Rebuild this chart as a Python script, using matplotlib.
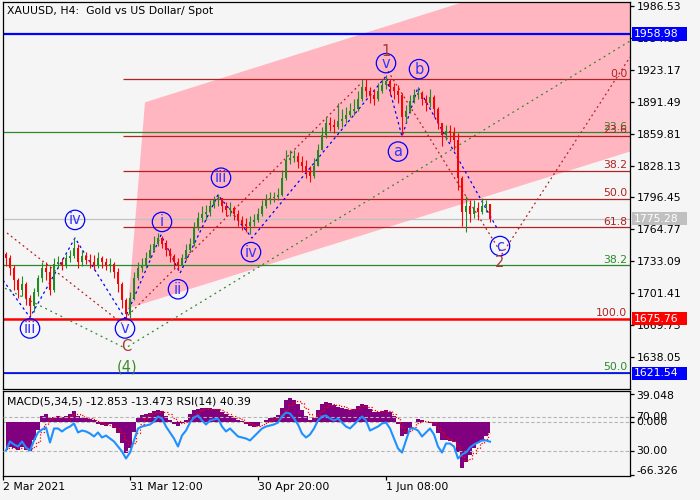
import numpy as np
import matplotlib
matplotlib.use("Agg")
import matplotlib.pyplot as plt
from matplotlib.patches import Polygon, Rectangle
from matplotlib.transforms import blended_transform_factory as blend

# ---------------- data ----------------
title = "XAUUSD, H4:  Gold vs US Dollar/ Spot"
indicator_label = "MACD(5,34,5) -12.853 -13.473 RSI(14) 40.39"
time_labels = ["2 Mar 2021", "31 Mar 12:00", "30 Apr 20:00", "1 Jun 08:00"]
time_label_bars = [0, 127, 255, 383]

first_open = 1740.0
closes = [1736, 1726, 1714, 1704, 1710, 1696, 1688, 1702, 1716, 1726,
          1722, 1704, 1730, 1732, 1728, 1736, 1738, 1746, 1732, 1738,
          1734, 1732, 1728, 1736, 1732, 1728, 1730, 1722, 1710, 1694,
          1680, 1696, 1716, 1726, 1729, 1736, 1744, 1750, 1756, 1750,
          1744, 1738, 1732, 1728, 1736, 1744, 1750, 1766, 1776, 1780,
          1782, 1788, 1794, 1796, 1788, 1784, 1786, 1780, 1774, 1770,
          1768, 1772, 1774, 1780, 1788, 1794, 1796, 1797, 1799, 1816,
          1834, 1836, 1838, 1832, 1828, 1822, 1818, 1828, 1844, 1858,
          1870, 1868, 1866, 1872, 1874, 1878, 1882, 1884, 1894, 1906,
          1902, 1898, 1894, 1902, 1908, 1912, 1906, 1902, 1898, 1876,
          1882, 1892, 1898, 1900, 1894, 1890, 1896, 1884, 1870, 1858,
          1862, 1860, 1854, 1816, 1782, 1788, 1780, 1786, 1782, 1788,
          1790, 1775.28]
highs = [1742, 1739, 1729, 1716, 1718, 1712, 1699, 1706, 1719, 1732,
         1732, 1728, 1736, 1738, 1736, 1740, 1744, 1756, 1750, 1744,
         1742, 1740, 1739, 1742, 1738, 1736, 1736, 1732, 1726, 1712,
         1696, 1702, 1722, 1732, 1736, 1742, 1750, 1758, 1761, 1758,
         1754, 1746, 1740, 1736, 1740, 1750, 1756, 1772, 1782, 1788,
         1789, 1794, 1798, 1800, 1796, 1792, 1792, 1788, 1784, 1778,
         1776, 1778, 1780, 1786, 1794, 1800, 1802, 1802, 1806, 1824,
         1844, 1844, 1844, 1842, 1838, 1834, 1828, 1836, 1850, 1866,
         1876, 1876, 1874, 1890, 1884, 1886, 1890, 1894, 1902, 1914,
         1914, 1906, 1904, 1910, 1914, 1918, 1914, 1910, 1908, 1900,
         1888, 1898, 1904, 1906, 1902, 1898, 1904, 1898, 1886, 1870,
         1868, 1868, 1866, 1860, 1818, 1798, 1794, 1794, 1792, 1796,
         1794, 1790]
lows = [1728, 1719, 1704, 1696, 1698, 1689, 1678, 1682, 1698, 1712,
        1714, 1699, 1702, 1726, 1724, 1726, 1732, 1736, 1726, 1728,
        1730, 1726, 1724, 1726, 1726, 1724, 1722, 1716, 1702, 1686,
        1675, 1676, 1694, 1714, 1722, 1726, 1736, 1742, 1748, 1746,
        1738, 1732, 1726, 1724, 1728, 1734, 1742, 1748, 1764, 1772,
        1774, 1778, 1786, 1788, 1782, 1778, 1778, 1774, 1768, 1764,
        1762, 1760, 1768, 1772, 1778, 1786, 1790, 1792, 1794, 1798,
        1814, 1830, 1832, 1826, 1822, 1816, 1812, 1816, 1828, 1844,
        1856, 1862, 1860, 1864, 1866, 1870, 1876, 1878, 1882, 1892,
        1896, 1890, 1888, 1892, 1900, 1904, 1898, 1894, 1890, 1858,
        1870, 1880, 1890, 1894, 1888, 1882, 1886, 1876, 1864, 1848,
        1854, 1852, 1844, 1804, 1768, 1762, 1772, 1776, 1774, 1780,
        1782, 1772]

macd = [-34.1, -30.4, -31.6, -34.1, -30.4, -34.1, -35.3, -21.7, -9.3, 8.0,
        10.5, 5.6, 6.8, 8.0, 6.8, 8.0, 10.5, 14.3, 8.0, 5.6,
        5.6, 4.3, 3.1, -1.8, -3.1, -4.3, -1.8, -6.8, -13.0, -25.4,
        -37.8, -31.6, -11.8, 5.6, 9.3, 10.5, 11.8, 14.3, 15.5, 14.3,
        8.0, 3.1, -1.8, -4.3, -0.6, 3.1, 10.5, 15.5, 16.7, 18.0,
        18.0, 18.0, 16.7, 16.7, 13.0, 10.5, 8.0, 5.6, 3.1, 1.9,
        -1.8, -4.3, -5.6, -4.3, 0.6, 3.1, 5.6, 6.8, 9.3, 18.0,
        27.9, 30.4, 27.9, 22.9, 15.5, 8.0, 3.1, 5.6, 15.5, 22.9,
        25.4, 24.2, 21.7, 19.2, 18.0, 16.7, 15.5, 16.7, 20.5, 22.9,
        21.7, 16.7, 13.0, 13.0, 14.3, 15.5, 13.0, 8.0, -1.8, -16.7,
        -14.3, -6.8, 0.6, 4.3, 3.1, 0.6, -0.6, -4.3, -13.0, -21.7,
        -21.7, -22.9, -24.2, -36.6, -56.4, -49.0, -40.3, -31.6, -25.4, -21.7,
        -16.7, -12.853]
signal = [-30, -31, -31, -32, -32, -32, -33, -30, -24, -12,
          -2, 4, 7, 8, 7, 7, 8, 10, 10, 9,
          7, 6, 4, 2, 0, -2, -3, -4, -7, -13,
          -22, -28, -25, -13, -2, 6, 10, 12, 13, 14,
          13, 10, 6, 2, -1, 0, 3, 8, 12, 15,
          17, 17, 17, 17, 15, 13, 11, 8, 6, 4,
          1, -1, -3, -4, -3, -1, 2, 4, 6, 10,
          16, 22, 26, 27, 24, 18, 11, 7, 9, 14,
          19, 22, 23, 22, 20, 19, 17, 17, 18, 20,
          21, 19, 16, 14, 14, 14, 14, 11, 5, -5,
          -11, -11, -6, -1, 2, 2, 1, -1, -5, -12,
          -18, -21, -23, -29, -41, -47, -45, -38, -31, -25,
          -20, -13.473]
rsi = [30.0, 40.6, 37.1, 34.7, 40.6, 33.5, 30.0, 41.8, 51.2, 54.7,
       57.1, 39.4, 55.9, 55.9, 52.4, 55.9, 58.2, 61.8, 51.2, 53.5,
       52.4, 50.0, 46.5, 51.2, 45.3, 47.6, 44.1, 40.6, 34.7, 28.8,
       20.6, 27.6, 41.8, 55.9, 58.2, 59.4, 60.6, 64.1, 70.0, 67.6,
       58.2, 51.2, 44.1, 34.7, 47.6, 53.5, 62.9, 68.8, 71.2, 65.3,
       60.6, 65.3, 66.5, 67.6, 58.2, 52.4, 55.9, 51.2, 46.5, 45.3,
       44.1, 41.8, 46.5, 51.2, 55.9, 58.2, 59.4, 60.6, 62.9, 70.0,
       74.7, 73.5, 67.6, 60.6, 50.0, 45.3, 48.8, 55.9, 65.3, 70.0,
       71.2, 67.6, 65.3, 67.6, 62.9, 58.2, 55.9, 60.6, 65.3, 70.0,
       65.3, 53.5, 55.9, 58.2, 61.8, 62.9, 55.9, 44.1, 32.4, 27.6,
       41.8, 55.9, 55.9, 53.5, 46.5, 51.2, 55.9, 48.8, 34.7, 27.6,
       38.2, 38.2, 34.7, 20.6, 25.3, 27.6, 33.5, 37.1, 39.4, 41.8,
       41.8, 40.39]

price_ticks = [1986.53, 1954.85, 1923.17, 1891.49, 1859.81, 1828.13,
               1796.45, 1764.77, 1733.09, 1701.41, 1669.73, 1638.05]
macd_max, macd_min = 39.048, -66.326
rsi_levels = [70, 30]

level_blue_top = 1958.98
level_red = 1675.76
level_blue_bottom = 1621.54
last_price = 1775.28

fib_red_high, fib_red_low = 1913.8, 1675.76
fib_red_levels = [0.0, 23.6, 38.2, 50.0, 61.8, 100.0]
fib_red_start_bar = 120
fib_green_high, fib_green_low = 2074.6, 1169.6
fib_green_levels = [23.6, 38.2, 50.0]

wave_path_bars = [0, 27, 72, 122, 158, 177, 215, 249, 383, 399, 415, 495]
wave_path_prices = [1714, 1677, 1756, 1676, 1759, 1721, 1799, 1756, 1917, 1857, 1906, 1764]

brown_lines = [([4, 119], [1761, 1671]),
               ([125, 357], [1679, 1909]),
               ([385, 499, 627], [1922, 1740, 1936])]
green_lines = [([2, 121], [1706, 1647]),
               ([125, 627], [1648, 1952])]
channel_bars = [125, 142, 627, 627]
channel_prices = [1686, 1891, 2043, 1842]

circled_text = ["iii", "iv", "i", "iii", "ii", "v", "iv", "v", "b", "a", "c"]
circled_bars = [218, 72, 159, 27, 175, 122, 248, 383, 416, 395, 497]
circled_prices = [1816, 1774, 1772, 1666, 1705, 1666, 1742, 1930, 1924, 1842, 1748]

brown_marks = ["1", "C", "2"]
brown_mark_bars = [383, 123, 497]
brown_mark_prices = [1942, 1648, 1732]
green_mark = "(4)"
green_mark_bar, green_mark_price = 124, 1628

# ---------------- styling ----------------
BG = '#f5f5f5'
GREEN = '#1e8c1e'
RED = '#ff0000'
BROWN = '#b22222'
FIBGREEN = '#2a8a2a'
BLUE = '#0000ff'
FS = 7.8
plt.rcParams['font.family'] = ['DejaVu Sans']

fig = plt.figure(figsize=(7, 5), dpi=100)
fig.patch.set_facecolor(BG)


def rect(x0, y0, x1, y1):
    return [x0 / 700, 1 - y1 / 500, (x1 - x0) / 700, (y1 - y0) / 500]


ax = fig.add_axes(rect(3, 2, 630, 389))
ax2 = fig.add_axes(rect(3, 391, 630, 476))
ax3 = ax2.twinx()

for a in (ax, ax2):
    a.set_facecolor(BG)
    for s in a.spines.values():
        s.set_color('black')
        s.set_linewidth(0.9)
for s in ax3.spines.values():
    s.set_visible(False)

XMAX = 627
ax.set_xlim(0, XMAX)
ax.set_ylim(1605.76, 1990.83)
ax2.set_xlim(0, XMAX)
ax2.set_ylim(macd_min, macd_max)
ax3.set_ylim(0, 100)

# ---- main chart ----
chan = Polygon(list(zip(channel_bars, channel_prices)), closed=True,
               facecolor='#ffb6c1', edgecolor='none', zorder=0.5)
ax.add_patch(chan)

ax.axhline(last_price, color='#c0c0c0', lw=0.9, zorder=1)
for lv in fib_green_levels:
    p = fib_green_high - (fib_green_high - fib_green_low) * lv / 100
    ax.axhline(p, color=FIBGREEN, lw=0.9, zorder=1.2)
    ax.annotate(f"{lv:.1f}", xy=(1.0, p), xycoords=blend(ax.transAxes, ax.transData),
                xytext=(-2, 0.5), textcoords='offset points', ha='right', va='bottom',
                fontsize=FS, color=FIBGREEN, zorder=5)
for lv in fib_red_levels:
    p = fib_red_high - (fib_red_high - fib_red_low) * lv / 100
    if lv != 100.0:
        ax.hlines(p, fib_red_start_bar, XMAX, color=BROWN, lw=0.9, zorder=1.3)
    ax.annotate(f"{lv:.1f}", xy=(1.0, p), xycoords=blend(ax.transAxes, ax.transData),
                xytext=(-2, 0.5), textcoords='offset points', ha='right', va='bottom',
                fontsize=FS, color=BROWN, zorder=5)

ax.axhline(level_blue_top, color=BLUE, lw=1.6, zorder=1.5)
ax.axhline(level_red, color=RED, lw=1.8, zorder=1.5)
ax.axhline(level_blue_bottom, color=BLUE, lw=1.2, zorder=1.4)

ax.plot(wave_path_bars, wave_path_prices, color=BLUE, lw=0.9, ls=(0, (2, 2.5)), zorder=2)
for bx, py in brown_lines:
    ax.plot(bx, py, color=BROWN, lw=0.9, ls=(0, (1.5, 2.5)), zorder=2)
for bx, py in green_lines:
    ax.plot(bx, py, color='#2a8a2a', lw=0.9, ls=(0, (1.5, 3)), zorder=2)

# candles
c = np.asarray(closes, float)
h = np.asarray(highs, float)
l = np.asarray(lows, float)
o = np.r_[first_open, c[:-1]]
n = len(c)
xs = 3 + 4 * np.arange(n)
cols = np.where(c >= o, GREEN, RED)
ax.vlines(xs, l, h, colors=cols, lw=0.8, zorder=3)
ax.bar(xs, np.maximum(np.abs(c - o), 0.8), bottom=np.minimum(o, c), width=2.4,
       color=cols, lw=0, zorder=3)

# wave labels
ax.scatter(circled_bars, circled_prices, s=195, facecolors='none', edgecolors=BLUE,
           linewidths=0.9, zorder=6)
for t, bx, py in zip(circled_text, circled_bars, circled_prices):
    ax.text(bx, py, t, ha='center', va='center', fontsize=10.5, color='#3535ff', zorder=7)
for t, bx, py in zip(brown_marks, brown_mark_bars, brown_mark_prices):
    ax.text(bx, py, t, ha='center', va='center', fontsize=10.5, color='#a83a32', zorder=7)
ax.text(green_mark_bar, green_mark_price, green_mark, ha='center', va='center',
        fontsize=10.5, color='#3c8c28', zorder=7)

# price axis
ax.set_xticks([])
ax.yaxis.tick_right()
ax.set_yticks(price_ticks)
ax.set_yticklabels([f"{v:.2f}" for v in price_ticks], fontsize=FS)
ax.tick_params(axis='y', direction='out', length=3, width=0.9, pad=2, colors='black')

bt = blend(ax.transAxes, ax.transData)
for val, fc in [(level_blue_top, BLUE), (last_price, '#c0c0c0'),
                (level_red, RED), (level_blue_bottom, BLUE)]:
    ax.add_patch(Rectangle((1.0032, val - 6.6), 0.0877, 13.2, transform=bt,
                           facecolor=fc, edgecolor='none', clip_on=False, zorder=10))
    ax.text(1.0064, val, f"{val:.2f}", transform=bt, ha='left', va='center',
            fontsize=FS, color='white', zorder=11, clip_on=False)

ax.text(4 / 627, 1 - 9 / 387, title, transform=ax.transAxes, ha='left', va='center',
        fontsize=FS, color='black', zorder=12)

# ---- indicator panel ----
ax2.fill_between(xs, 0, macd, step='mid', color='#800080', lw=0, zorder=1)
ax2.plot(xs, signal, color='red', lw=0.9, ls=(0, (1, 1.5)), drawstyle='steps-mid', zorder=2)
ax2.axhline(0, color='#b4b4b4', lw=0.8, ls=(0, (3, 2)), zorder=0.5)
for lv in rsi_levels:
    ax3.axhline(lv, color='#b4b4b4', lw=0.8, ls=(0, (3, 2)), zorder=0.5)
ax3.plot(xs, rsi, color='#1e90ff', lw=1.5, zorder=3)

ax2.yaxis.tick_right()
ax2.set_yticks([macd_max - 3.5, 0, macd_min + 1])
ax2.set_yticklabels([])
ax2.tick_params(axis='y', direction='out', length=3, width=0.9)
ax3.set_yticks(rsi_levels)
ax3.set_yticklabels([])
ax3.tick_params(axis='y', direction='out', length=3, width=0.9)

ax2.set_xticks(time_label_bars)
ax2.set_xticklabels(time_labels, fontsize=FS)
for lbl in ax2.get_xticklabels():
    lbl.set_horizontalalignment('left')
ax2.tick_params(axis='x', direction='out', length=3, width=0.9, pad=1.5)

bt2 = blend(ax2.transAxes, ax2.transData)
bt3 = blend(ax3.transAxes, ax3.transData)
ax2.text(1.0096, macd_max, f"{macd_max:.3f}", transform=bt2, ha='left', va='top',
         fontsize=FS, clip_on=False)
ax2.text(1.0096, macd_min, f"{macd_min:.3f}", transform=bt2, ha='left', va='bottom',
         fontsize=FS, clip_on=False)
ax2.text(1.0096, 0, "0.000", transform=bt2, ha='left', va='center', fontsize=FS, clip_on=False)
for lv in rsi_levels:
    ax3.text(1.0096, lv, f"{lv:.2f}", transform=bt3, ha='left', va='center',
             fontsize=FS, clip_on=False)

ax2.text(4 / 627, 1 - 11 / 85, indicator_label, transform=ax2.transAxes, ha='left',
         va='center', fontsize=FS, color='black', zorder=12)

fig.savefig("out.png", dpi=100, facecolor=BG)
